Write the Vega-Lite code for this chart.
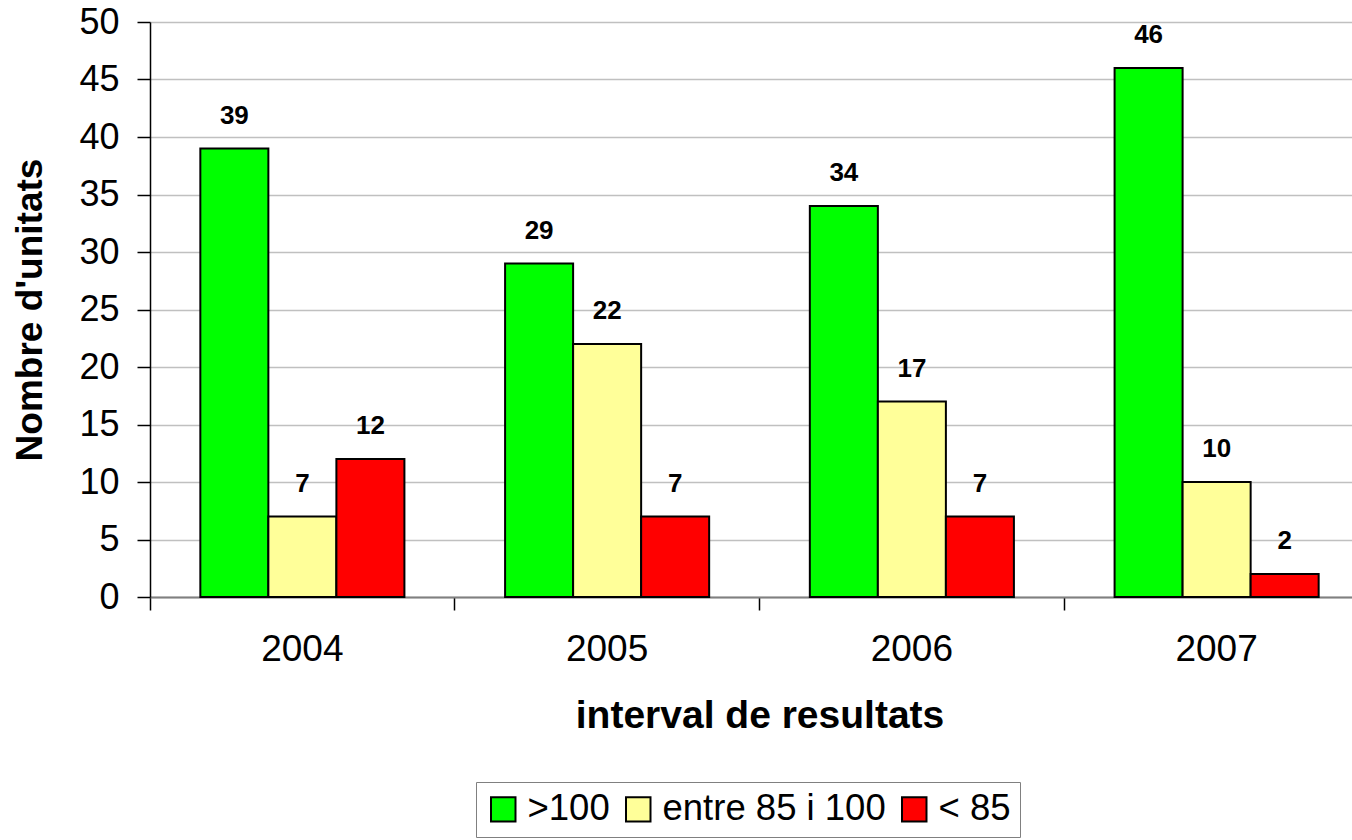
{
  "$schema": "https://vega.github.io/schema/vega-lite/v6.json",
  "width": 1202,
  "height": 575,
  "autosize": {"type": "none"},
  "padding": {"left": 150, "top": 22, "right": 0, "bottom": 243},
  "background": "white",
  "config": {"view": {"stroke": null}, "font": "Liberation Sans"},
  "data": {"values": [
    {"year": "2004", "cat": ">100", "n": 39},
    {"year": "2004", "cat": "entre 85 i 100", "n": 7},
    {"year": "2004", "cat": "< 85", "n": 12},
    {"year": "2005", "cat": ">100", "n": 29},
    {"year": "2005", "cat": "entre 85 i 100", "n": 22},
    {"year": "2005", "cat": "< 85", "n": 7},
    {"year": "2006", "cat": ">100", "n": 34},
    {"year": "2006", "cat": "entre 85 i 100", "n": 17},
    {"year": "2006", "cat": "< 85", "n": 7},
    {"year": "2007", "cat": ">100", "n": 46},
    {"year": "2007", "cat": "entre 85 i 100", "n": 10},
    {"year": "2007", "cat": "< 85", "n": 2}
  ]},
  "encoding": {
    "x": {
      "field": "year", "type": "nominal",
      "scale": {"range": [0, 1219], "paddingInner": 0, "paddingOuter": 0},
      "axis": {
        "bandPosition": 0, "tickSize": 13, "tickColor": "black", "tickWidth": 1.5,
        "domainColor": "#808080", "domainWidth": 2,
        "labelAngle": 0, "labelFontSize": 37, "labelColor": "black", "labelPadding": 21,
        "title": "interval de resultats", "titleFontSize": 39, "titleFontWeight": "bold",
        "titleColor": "black", "titlePadding": 29, "grid": false
      }
    },
    "xOffset": {
      "field": "cat", "type": "nominal",
      "sort": [">100", "entre 85 i 100", "< 85"],
      "scale": {"paddingOuter": 0.74, "paddingInner": 0}
    },
    "y": {
      "field": "n", "type": "quantitative",
      "scale": {"domain": [0, 50], "nice": false},
      "axis": {
        "values": [0, 5, 10, 15, 20, 25, 30, 35, 40, 45, 50],
        "grid": true, "gridColor": "#C0C0C0", "gridWidth": 1.5,
        "domainColor": "black", "domainWidth": 1.5,
        "tickSize": 13, "tickColor": "black", "tickWidth": 1.5,
        "labelFontSize": 36, "labelColor": "black", "labelPadding": 18,
        "title": "Nombre d'unitats", "titleFontSize": 37, "titleFontWeight": "bold",
        "titleColor": "black", "titlePadding": 29
      }
    }
  },
  "layer": [
    {
      "mark": {"type": "bar", "stroke": "black", "strokeWidth": 2},
      "encoding": {
        "color": {
          "field": "cat", "type": "nominal",
          "sort": [">100", "entre 85 i 100", "< 85"],
          "scale": {"domain": [">100", "entre 85 i 100", "< 85"], "range": ["#00FF00", "#FFFF99", "#FF0000"]},
          "legend": {
            "title": null, "orient": "none", "legendX": 326, "legendY": 760,
            "direction": "horizontal", "strokeColor": "#808080",
            "padding": 9, "symbolType": "square", "symbolSize": 600,
            "symbolStrokeColor": "black", "symbolStrokeWidth": 2,
            "labelFontSize": 36.5, "labelColor": "black", "labelOffset": 6,
            "columnPadding": 10, "labelLimit": 400
          }
        }
      }
    },
    {
      "mark": {"type": "text", "baseline": "bottom", "dy": -20, "fontSize": 26, "fontWeight": "bold", "color": "black"},
      "encoding": {"text": {"field": "n", "type": "quantitative"}}
    }
  ]
}
